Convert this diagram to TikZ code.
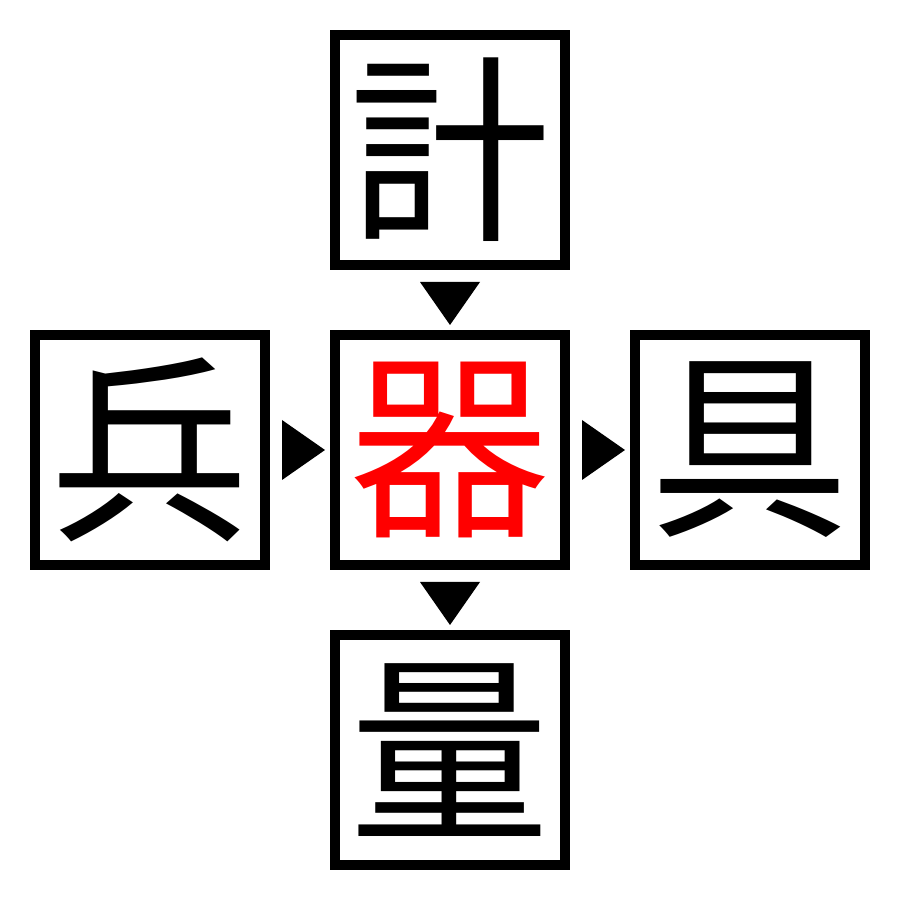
\documentclass[tikz,border=0pt]{standalone}
\usepackage{fontspec}
\usetikzlibrary{calc}
\newfontfamily\cjk{Noto Sans CJK JP}
\tikzset{kanji/.style={draw, line width=0.1cm, minimum size=2.3cm, inner sep=0pt, font=\cjk\fontsize{57}{57}\selectfont},
         mark tri/.style={fill=black, draw=none}}
\begin{document}
\begin{tikzpicture}
   \useasboundingbox (0,0) rectangle (9,9);
   \node[kanji] (top) at (4.5,7.5) {計};
   \node[kanji] (lft) at (1.5,4.5) {兵};
   \node[kanji, text=red] (ctr) at (4.5,4.5) {器};
   \node[kanji] (rgt) at (7.5,4.5) {具};
   \node[kanji] (bot) at (4.5,1.5) {量};
   \fill[mark tri] ($(top.south)+(-0.3,-0.12)$) -- ($(top.south)+(0.3,-0.12)$) -- ($(ctr.north)+(0,0.05)$) -- cycle;
   \fill[mark tri] ($(ctr.south)+(-0.3,-0.12)$) -- ($(ctr.south)+(0.3,-0.12)$) -- ($(bot.north)+(0,0.05)$) -- cycle;
   \fill[mark tri] ($(lft.east)+(0.12,0.3)$) -- ($(lft.east)+(0.12,-0.3)$) -- ($(ctr.west)+(-0.05,0)$) -- cycle;
   \fill[mark tri] ($(ctr.east)+(0.12,0.3)$) -- ($(ctr.east)+(0.12,-0.3)$) -- ($(rgt.west)+(-0.05,0)$) -- cycle;
\end{tikzpicture}
\end{document}
